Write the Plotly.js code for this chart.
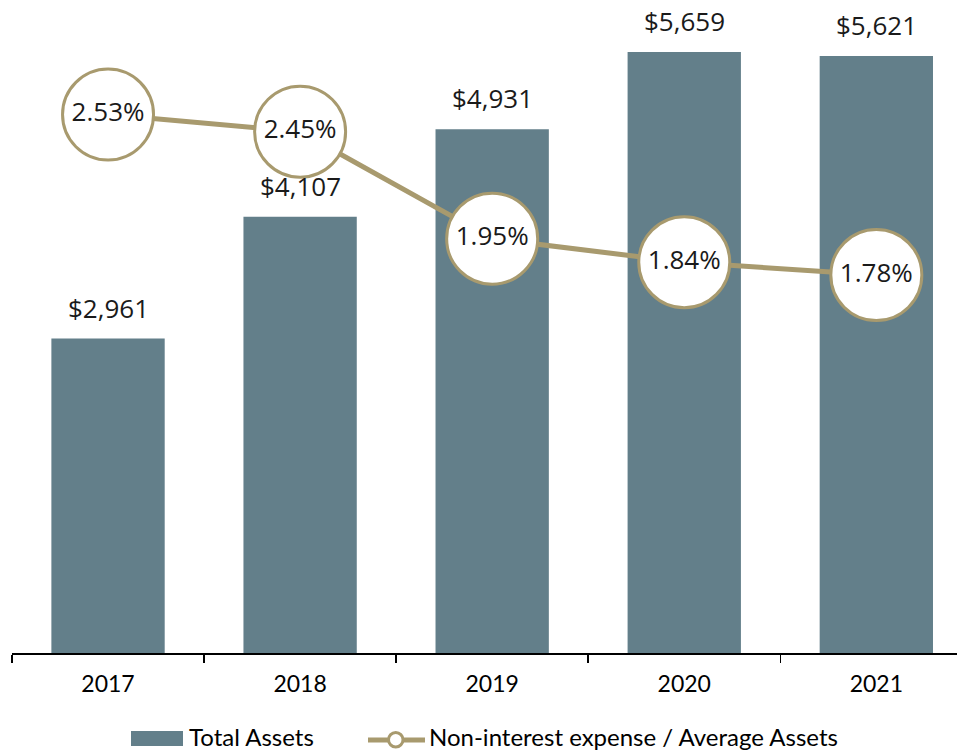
<!DOCTYPE html>
<html>
<head>
<meta charset="utf-8">
<script src="https://cdn.plot.ly/plotly-3.0.1.min.js"></script>
<style>html,body{margin:0;padding:0;background:#fff;overflow:hidden}</style>
</head>
<body>
<div id="chart" style="width:957px;height:750px"></div>
<script>
const years = ['2017', '2018', '2019', '2020', '2021'];
const totalAssets = [2961, 4107, 4931, 5659, 5621];
const expenseRatio = [2.53, 2.45, 1.95, 1.84, 1.78];
const assetLabels = ['$2,961', '$4,107', '$4,931', '$5,659', '$5,621'];
const legendNames = ['Total Assets', 'Non-interest expense / Average Assets'];

const barColor = '#637f8a';
const lineColor = '#a89a6e';
const labelFont = 'Open Sans, sans-serif';
const axisFont = 'Lato, sans-serif';

const bars = {
  type: 'bar', x: years, y: totalAssets, name: legendNames[0],
  marker: {color: barColor}, width: 0.59, yaxis: 'y', hoverinfo: 'skip'
};
const line = {
  type: 'scatter', mode: 'lines+markers+text', x: years, y: expenseRatio,
  name: legendNames[1], yaxis: 'y2',
  line: {color: lineColor, width: 5},
  marker: {size: 91, color: '#ffffff', line: {color: lineColor, width: 3}},
  texttemplate: '%{y:.2f}%', textposition: 'middle center',
  textfont: {family: labelFont, size: 26, color: '#1a1a1a'},
  cliponaxis: false, hoverinfo: 'skip'
};

// bar value labels: category index positions on the category axis
const annotations = years.map((yr, i) => ({
  x: i, y: totalAssets[i], xref: 'x', yref: 'y', text: assetLabels[i],
  showarrow: false, yanchor: 'bottom', yshift: 11,
  font: {family: labelFont, size: 26, color: '#1a1a1a'}
}));

// custom legend (paper coordinates)
const px = v => (v - 12) / 945;
const py = v => (653 - v) / 633;
annotations.push({
  x: px(187), y: py(736), xref: 'paper', yref: 'paper', xanchor: 'left', yanchor: 'middle',
  text: legendNames[0], showarrow: false, font: {family: axisFont, size: 24, color: '#000'}
});
annotations.push({
  x: px(427), y: py(736), xref: 'paper', yref: 'paper', xanchor: 'left', yanchor: 'middle',
  text: legendNames[1], showarrow: false, font: {family: axisFont, size: 24, color: '#000'}
});
const shapes = [
  {type: 'rect', xref: 'paper', yref: 'paper', x0: px(131), x1: px(183), y0: py(746), y1: py(731),
   fillcolor: barColor, line: {width: 0}},
  {type: 'line', xref: 'paper', yref: 'paper', x0: px(368), x1: px(425), y0: py(740), y1: py(740),
   line: {color: lineColor, width: 5}},
  {type: 'circle', xref: 'paper', yref: 'paper', x0: px(388.5), x1: px(403), y0: py(747), y1: py(732.5),
   fillcolor: '#ffffff', line: {color: lineColor, width: 3}}
];

const layout = {
  width: 957, height: 750,
  margin: {l: 12, r: 0, t: 20, b: 97},
  paper_bgcolor: '#ffffff', plot_bgcolor: '#ffffff',
  showlegend: false,
  xaxis: {
    type: 'category', range: [-0.5, 4.42], tickson: 'boundaries',
    ticks: 'outside', ticklen: 8, tickwidth: 1.5, tickcolor: '#000',
    showline: true, linecolor: '#000', linewidth: 1.5, showgrid: false,
    tickfont: {family: axisFont, size: 23, color: '#000'}, ticklabelstandoff: 10
  },
  yaxis: {range: [0, 5960], visible: false, showgrid: false, zeroline: false, fixedrange: true},
  yaxis2: {range: [0.014, 2.972], overlaying: 'y', visible: false, showgrid: false, zeroline: false},
  annotations: annotations,
  shapes: shapes
};

Plotly.newPlot('chart', [bars, line], layout, {displayModeBar: false, staticPlot: true});
</script>
</body>
</html>
